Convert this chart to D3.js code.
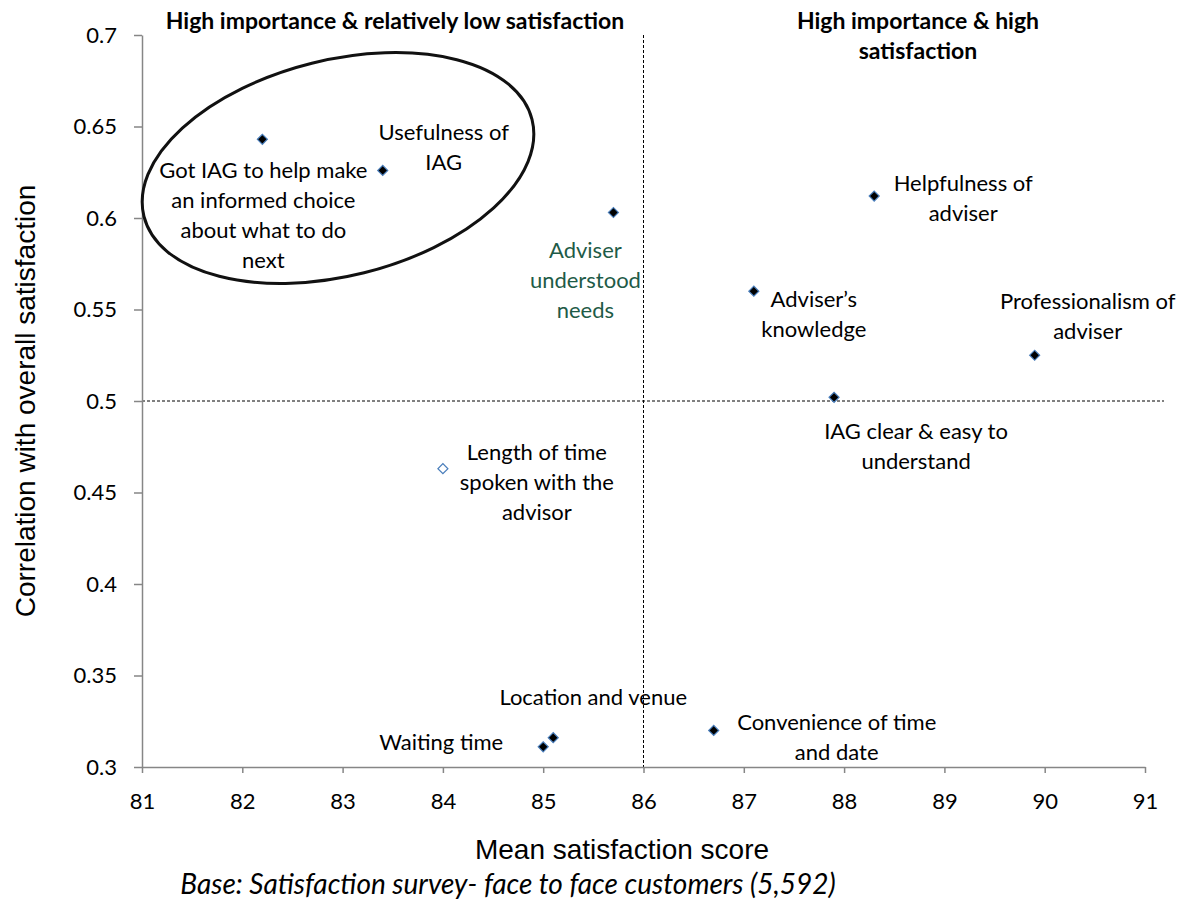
<!DOCTYPE html>
<html><head><meta charset="utf-8">
<script src="https://cdn.jsdelivr.net/npm/d3@7"></script>
<style>body{margin:0;background:#fff}</style>
</head><body>
<svg id="c" width="1188" height="899"></svg>
<script>
const labels = [
  ["Got IAG to help make","an informed choice","about what to do","next"],
  ["Usefulness of","IAG"],
  ["Adviser","understood","needs"],
  ["Helpfulness of","adviser"],
  ["Adviser\u2019s","knowledge"],
  ["Professionalism of","adviser"],
  ["IAG clear & easy to","understand"],
  ["Length of time","spoken with the","advisor"],
  ["Location and venue"],
  ["Waiting time"],
  ["Convenience of time","and date"]
];
const meanScore = [82.2, 83.4, 85.7, 88.3, 87.1, 89.9, 87.9, 84.0, 85.1, 85.0, 86.7];
const correlation = [0.643, 0.626, 0.603, 0.612, 0.560, 0.525, 0.502, 0.463, 0.316, 0.311, 0.320];
const hollow = [false,false,false,false,false,false,false,true,false,false,false];
// label offsets (dx, dy of first line centre, relative to point)
const labelDx = [1, 61, -28, 89, 60, 53, 82, 94, 40, -102, 123];
const labelDy = [31, -38, 38, -13, 8, -54, 34, -16, -40, -5, -8];
const labelColor = ["#000","#000","#1e5b47","#000","#000","#000","#000","#000","#000","#000","#000"];
const xTicks = [81,82,83,84,85,86,87,88,89,90,91];
const yTicks = [0.3,0.35,0.4,0.45,0.5,0.55,0.6,0.65,0.7];
const quadrantTitles = [["High importance & relatively low satisfaction"],["High importance & high","satisfaction"]];

const svg = d3.select("#c");
const L = 142, R = 1145, T = 35, B = 767;
const x = d3.scaleLinear().domain([81,91]).range([L,R]);
const y = d3.scaleLinear().domain([0.3,0.7]).range([B,T]);
const lab = "Lato, 'Open Sans', sans-serif";

// reference lines
svg.append("line").attr("x1",x(86)).attr("x2",x(86)).attr("y1",T).attr("y2",B)
  .attr("stroke","#000").attr("stroke-width",1).attr("stroke-dasharray","3,2");
svg.append("line").attr("x1",L).attr("x2",1164).attr("y1",y(0.5)).attr("y2",y(0.5))
  .attr("stroke","#000").attr("stroke-width",1).attr("stroke-dasharray","3,2");

// axes
const xAxis = svg.append("g").attr("transform",`translate(0,${B})`)
  .call(d3.axisBottom(x).tickValues(xTicks).tickSize(6).tickSizeOuter(0).tickFormat(d3.format("d")));
const yAxis = svg.append("g").attr("transform",`translate(${L},0)`)
  .call(d3.axisLeft(y).tickValues(yTicks).tickSize(8).tickSizeOuter(0).tickFormat(d=>String(+d.toFixed(2))));
[xAxis,yAxis].forEach(g=>{
  g.selectAll("path,line").attr("stroke","#868686").attr("stroke-width",1.5);
  g.selectAll("text").attr("font-family",lab).attr("font-size",22).attr("fill","#000");
});
xAxis.selectAll("text").attr("dy","1.5em");
yAxis.selectAll("text").attr("dx","-14px");

// ellipse
svg.append("ellipse").attr("cx",338).attr("cy",168).attr("rx",200).attr("ry",108)
  .attr("transform","rotate(-14,338,168)")
  .attr("fill","none").attr("stroke","#111").attr("stroke-width",3);

// points
const data = meanScore.map((m,i)=>({m, c:correlation[i], h:hollow[i], lab:labels[i], dx:labelDx[i], dy:labelDy[i], col:labelColor[i]}));
svg.append("g").selectAll("path").data(data).join("path")
  .attr("d", d3.symbol(d3.symbolSquare, 50))
  .attr("transform", d=>`translate(${x(d.m)},${y(d.c)}) rotate(45)`)
  .attr("fill", d=>d.h ? "#fff" : "#000")
  .attr("stroke", "#4a7ebb").attr("stroke-width",1.2);

// labels
const lg = svg.append("g").attr("font-family",lab).attr("font-size",22).attr("text-anchor","middle");
data.forEach(d=>{
  const t = lg.append("text").attr("fill",d.col);
  d.lab.forEach((line,j)=>{
    t.append("tspan").attr("x",x(d.m)+d.dx).attr("y",y(d.c)+d.dy+j*30).attr("dy","0.35em").text(line);
  });
});

// quadrant titles
const qx = [395, 918];
quadrantTitles.forEach((lines,i)=>{
  const t = svg.append("text").attr("font-family",lab).attr("font-weight","bold").attr("font-size",23).attr("text-anchor","middle");
  lines.forEach((line,j)=>t.append("tspan").attr("x",qx[i]).attr("y",21+j*30).attr("dy","0.35em").text(line));
});

// axis titles
svg.append("text").attr("x",622).attr("y",849).attr("dy","0.35em").attr("text-anchor","middle")
  .attr("font-family","'Liberation Sans', Arial, sans-serif").attr("font-size",28).text("Mean satisfaction score");
svg.append("text").attr("transform","translate(25,401) rotate(-90)").attr("dy","0.35em").attr("text-anchor","middle")
  .attr("font-family","'Liberation Sans', Arial, sans-serif").attr("font-size",28).text("Correlation with overall satisfaction");
svg.append("text").attr("x",508).attr("y",884).attr("dy","0.35em").attr("text-anchor","middle")
  .attr("font-family",lab).attr("font-style","italic").attr("font-size",28).text("Base: Satisfaction survey- face to face customers (5,592)");
</script>
</body></html>
